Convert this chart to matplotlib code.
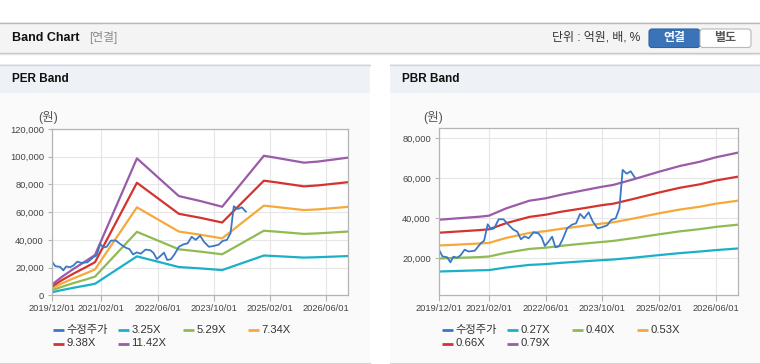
import matplotlib.pyplot as plt
from matplotlib.patches import Rectangle, FancyBboxPatch

plt.rcParams['font.family'] = ['Liberation Sans', 'Noto Sans CJK KR']

# x = months counted from 2019/12
xtick_pos = [1.75, 14, 28, 42, 56, 70]
xtick_labels = ['2019/12/01', '2021/02/01', '2022/06/01', '2023/10/01', '2025/02/01', '2026/06/01']

# adjusted share price (수정주가), won
price_m = [1.75, 2.5, 3.7, 4.5, 5.2, 6.2, 7.0, 8.0, 9.0, 10.5, 12.0, 12.8, 13.7, 14.5, 15.3, 16.4,
           17.6, 18.7, 20.0, 21.0, 21.9, 22.8, 23.8, 25.0, 26.2, 27.0, 27.8, 28.7, 29.6, 30.4, 31.3,
           32.2, 33.3, 34.5, 35.5, 36.5, 37.5, 38.6, 39.6, 40.8, 42.0, 43.2, 44.2, 45.3, 46.2, 47.0,
           48.0, 49.0, 50.0]
price = [24000, 21000, 20500, 18000, 20800, 20300, 21500, 24300, 23400, 23800, 27500, 28800, 37000,
         34500, 35000, 39500, 39500, 37000, 34400, 33300, 29500, 31000, 30000, 33000, 32500, 30500,
         26200, 28300, 30800, 25500, 26000, 29500, 35000, 36800, 37500, 42200, 40000, 43000, 38500,
         35000, 35600, 36500, 39200, 40000, 45000, 64200, 62300, 63500, 60400]

# PER band
per_m = [1.75, 4, 7, 10, 12.4, 22.85, 33.3, 38.7, 44.1, 54.5, 57.4, 64.5, 68, 75.4]
per_325 = [2200, 3700, 5400, 7000, 8300, 28100, 20400, 19400, 18200, 28700, 28300, 27200, 27500, 28300]
per_529 = [3700, 6000, 8800, 11300, 13500, 45800, 33200, 31500, 29600, 46600, 46000, 44300, 44700, 46000]
per_734 = [5100, 8400, 12200, 15700, 18700, 63500, 46000, 43700, 41100, 64700, 63800, 61500, 62000, 63800]
per_938 = [6500, 10700, 15600, 20100, 23900, 81200, 58800, 55900, 52500, 82700, 81600, 78600, 79300, 81600]
per_1142 = [7900, 13000, 19000, 24500, 29100, 98800, 71600, 68000, 63900, 100700, 99300, 95700, 96500, 99300]

# PBR band
pbr_m = [1.75, 11.7, 14, 18.3, 24, 28, 31.6, 36.6, 42, 44.7, 49.7, 56, 61.2, 66.1, 70, 75.4]
pbr_027 = [13400, 14000, 14100, 15400, 16700, 17100, 17700, 18400, 19100, 19400, 20300, 21600, 22600, 23400, 24100, 24900]
pbr_040 = [19900, 20600, 20900, 22800, 24700, 25300, 26200, 27200, 28200, 28700, 30100, 32000, 33500, 34600, 35700, 36800]
pbr_053 = [26400, 27400, 27700, 30200, 32700, 33600, 34700, 36000, 37400, 38000, 39900, 42500, 44400, 45800, 47300, 48800]
pbr_066 = [32800, 34100, 34500, 37600, 40700, 41800, 43200, 44800, 46600, 47300, 49700, 52900, 55300, 57000, 58900, 60800]
pbr_079 = [39300, 40800, 41300, 45000, 48800, 50000, 51700, 53700, 55800, 56700, 59500, 63300, 66200, 68300, 70500, 72800]

c_price = '#3b77c6'
c_band = ['#1bb0c8', '#8fbb52', '#f5a93b', '#d33430', '#9a5ba8']

fig = plt.figure(figsize=(7.6, 3.64), dpi=100)

# page background drawn in pixel coordinates
bg = fig.add_axes([0, 0, 1, 1], zorder=0)
bg.set_xlim(0, 760)
bg.set_ylim(364, 0)
bg.axis('off')

bg.add_patch(Rectangle((0, 22), 760, 31, fc='#f4f4f4', ec='none'))
bg.plot([0, 760], [22.5, 22.5], color='#b8b8b8', lw=1)
bg.plot([0, 760], [53, 53], color='#c4c4c4', lw=1)
bg.plot([0, 760], [54.2, 54.2], color='#e2e2e2', lw=1)
bg.text(12, 38, 'Band Chart', fontsize=9, fontweight='bold', color='#111', va='center')
bg.text(89, 38, '[연결]', fontsize=8.5, color='#8a8a8a', va='center')
bg.text(552, 38, '단위 : 억원, 배, %', fontsize=8.6, color='#333', va='center')
bg.add_patch(FancyBboxPatch((649, 29), 51, 18.5, boxstyle='round,pad=0,rounding_size=3',
                            fc='#3a73b8', ec='#2e63a3', lw=0.8))
bg.add_patch(FancyBboxPatch((700, 29), 51, 18.5, boxstyle='round,pad=0,rounding_size=3',
                            fc='#ffffff', ec='#b8b8b8', lw=0.8))
bg.text(674.5, 38.5, '연결', fontsize=8.6, fontweight='bold', color='white', ha='center', va='center')
bg.text(725.5, 38.5, '별도', fontsize=8.6, fontweight='bold', color='#555', ha='center', va='center')

for x0, title in [(0, 'PER Band'), (390, 'PBR Band')]:
    bg.add_patch(Rectangle((x0, 64), 370, 298, fc='#fafafa', ec='none'))
    bg.add_patch(Rectangle((x0, 64), 370, 29, fc='#eef1f6', ec='none'))
    bg.plot([x0, x0 + 370], [64.5, 64.5], color='#d4d4d4', lw=1)
    bg.plot([x0, x0 + 370], [362.5, 362.5], color='#d4d4d4', lw=1)
    bg.text(x0 + 12, 79, title, fontsize=8.5, fontweight='bold', color='#111', va='center')

bg.text(48, 117, '(원)', fontsize=9, color='#555', ha='center', va='center')
bg.text(433, 117, '(원)', fontsize=9, color='#555', ha='center', va='center')


def style_axes(ax, yticks):
    ax.set_facecolor('white')
    for s in ax.spines.values():
        s.set_color('#b4b4b4')
        s.set_linewidth(0.9)
    ax.set_xlim(1.75, 75.4)
    ax.set_xticks(xtick_pos)
    ax.set_xticklabels(xtick_labels)
    ax.set_yticks(yticks)
    ax.set_yticklabels([f'{v:,}' for v in yticks])
    ax.grid(True, color='#e6e6e6', lw=0.8)
    ax.set_axisbelow(True)
    ax.tick_params(axis='x', length=4, width=0.8, color='#b4b4b4', pad=2, labelsize=6.7, labelcolor='#444')
    ax.tick_params(axis='y', length=3, width=0.8, color='#b4b4b4', pad=3, labelsize=6.7, labelcolor='#444')


# PER chart
ax1 = fig.add_axes([52.3 / 760, (364 - 295.3) / 364, 295.4 / 760, 166.3 / 364], zorder=1)
for vals, col in zip([per_325, per_529, per_734, per_938, per_1142], c_band):
    ax1.plot(per_m, vals, color=col, lw=1.6)
ax1.plot(price_m, price, color=c_price, lw=1.3)
ax1.set_ylim(0, 120000)
style_axes(ax1, [0, 20000, 40000, 60000, 80000, 100000, 120000])

# PBR chart
ax2 = fig.add_axes([439.3 / 760, (364 - 295.3) / 364, 298.4 / 760, 167 / 364], zorder=1)
for vals, col in zip([pbr_027, pbr_040, pbr_053, pbr_066, pbr_079], c_band):
    ax2.plot(pbr_m, vals, color=col, lw=1.6)
ax2.plot(price_m, price, color=c_price, lw=1.3)
ax2.set_ylim(1500, 85000)
style_axes(ax2, [20000, 40000, 60000, 80000])

# legends
per_labels = ['수정주가', '3.25X', '5.29X', '7.34X', '9.38X', '11.42X']
pbr_labels = ['수정주가', '0.27X', '0.40X', '0.53X', '0.66X', '0.79X']
colors = [c_price] + c_band
for x0, labels in [(53, per_labels), (442, pbr_labels)]:
    for i, (lab, col) in enumerate(zip(labels, colors)):
        x = x0 + (i % 4) * 65
        y = 330 + (i // 4) * 13.5
        bg.plot([x, x + 11], [y, y], color=col, lw=2, solid_capstyle='butt')
        bg.text(x + 13.5, y, lab, fontsize=8.1, color='#333', va='center')

fig.savefig('out.png', dpi=100)
